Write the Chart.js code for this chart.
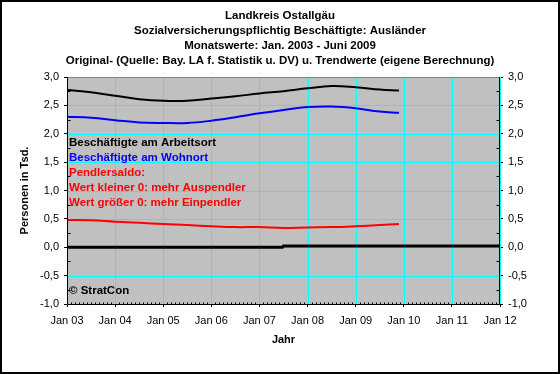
<!DOCTYPE html>
<html lang="de">
<head>
  <meta charset="UTF-8" />
  <title>Landkreis Ostallgäu - Ausländer</title>
  <script src="https://cdn.jsdelivr.net/npm/chart.js"></script>
  <style>
    body { margin: 0; background: #fff; }
    canvas { display: block; }
  </style>
</head>
<body>
  <canvas id="pendlerChart" width="560" height="374"></canvas>

  <script>
    // x values as decimal years (Jan 03 = 2003.0)
    const trendYears = [2003.0, 2003.5, 2004.0, 2004.5, 2005.0, 2005.5, 2006.0, 2006.5,
                        2007.0, 2007.5, 2008.0, 2008.5, 2009.0, 2009.5, 2009.9];
    const arbeitsort = [2.77, 2.73, 2.67, 2.61, 2.58, 2.58, 2.62, 2.66,
                        2.71, 2.75, 2.80, 2.84, 2.82, 2.78, 2.76];
    const wohnort    = [2.30, 2.28, 2.24, 2.20, 2.19, 2.19, 2.23, 2.29,
                        2.36, 2.42, 2.47, 2.48, 2.45, 2.39, 2.37];
    const saldo      = [0.48, 0.475, 0.45, 0.43, 0.41, 0.39, 0.37, 0.355,
                        0.355, 0.34, 0.35, 0.355, 0.37, 0.39, 0.41];
    const nullYears  = [2003.0, 2007.48, 2007.5, 2012.0];
    const nullLine   = [0.0, 0.0, 0.02, 0.02];

    const yearTicks = [2003, 2004, 2005, 2006, 2007, 2008, 2009, 2010, 2011, 2012];
    const titleLines = [
      'Landkreis Ostallgäu',
      'Sozialversicherungspflichtig Beschäftigte: Ausländer',
      'Monatswerte: Jan. 2003 - Juni 2009',
      'Original- (Quelle: Bay. LA f. Statistik u. DV) u. Trendwerte (eigene Berechnung)'
    ];
    const notes = [
      { text: 'Beschäftigte am Arbeitsort', color: '#000000' },
      { text: 'Beschäftigte am Wohnort', color: '#0000FF' },
      { text: 'Pendlersaldo:', color: '#FF0000' },
      { text: 'Wert kleiner 0: mehr Auspendler', color: '#FF0000' },
      { text: 'Wert größer 0: mehr Einpendler', color: '#FF0000' }
    ];

    const FONT = '"Liberation Sans", Arial, sans-serif';
    Chart.defaults.font.family = FONT;
    Chart.defaults.color = '#000';

    const toPts = (xs, ys) => xs.map((x, i) => ({ x: x, y: ys[i] }));

    // gray plot area, cyan grid, minor ticks, notes and outer frame
    const decoPlugin = {
      id: 'deco',
      beforeDatasetsDraw(chart) {
        const { ctx, chartArea: a, scales } = chart;
        ctx.save();
        ctx.fillStyle = '#C0C0C0';
        ctx.fillRect(a.left, a.top, a.right - a.left, a.bottom - a.top);
        ctx.strokeStyle = '#00FFFF';
        ctx.lineWidth = 1;
        ctx.beginPath();
        scales.x.ticks.forEach(t => {
          const px = Math.round(scales.x.getPixelForValue(t.value)) + 0.5;
          ctx.moveTo(px, a.top); ctx.lineTo(px, a.bottom);
        });
        scales.y.ticks.forEach(t => {
          const py = Math.round(scales.y.getPixelForValue(t.value)) + 0.5;
          ctx.moveTo(a.left, py); ctx.lineTo(a.right, py);
        });
        ctx.stroke();
        // top edge of plot area (gray, no axis)
        ctx.strokeStyle = '#808080';
        ctx.beginPath();
        ctx.moveTo(a.left, Math.round(a.top) + 0.5);
        ctx.lineTo(a.right, Math.round(a.top) + 0.5);
        ctx.stroke();
        ctx.restore();
      },
      afterDraw(chart) {
        const { ctx, chartArea: a, scales } = chart;
        ctx.save();
        // axis lines
        ctx.strokeStyle = '#000';
        ctx.lineWidth = 1;
        ctx.beginPath();
        const l = Math.round(a.left) + 0.5, r = Math.round(a.right) - 0.5, b = Math.round(a.bottom) + 0.5;
        ctx.moveTo(l, a.top); ctx.lineTo(l, b);
        ctx.lineTo(r, b); ctx.lineTo(r, a.top);
        // minor ticks
        for (let v = -0.75; v < 3; v += 0.5) {
          const py = Math.round(scales.y.getPixelForValue(v)) + 0.5;
          ctx.moveTo(l, py); ctx.lineTo(l + 3, py);
          ctx.moveTo(r - 3, py); ctx.lineTo(r, py);
        }
        for (let m = 1; m < 108; m++) {
          if (m % 12 === 0) continue;
          const px = Math.round(scales.x.getPixelForValue(2003 + m / 12)) + 0.5;
          ctx.moveTo(px, b); ctx.lineTo(px, b - 2);
        }
        ctx.stroke();

        ctx.font = 'bold 11.5px ' + FONT;
        ctx.textBaseline = 'middle';
        ctx.textAlign = 'left';
        notes.forEach((n, i) => {
          ctx.fillStyle = n.color;
          ctx.fillText(n.text, a.left + 2, a.top + 66 + i * 15);
        });
        ctx.fillStyle = '#000';
        ctx.fillText('© StratCon', a.left + 2, a.bottom - 13);

        ctx.lineWidth = 2;
        ctx.strokeRect(1, 1, chart.width - 2, chart.height - 2);
        ctx.restore();
      }
    };

    const fmt = (v) => v.toFixed(1).replace('.', ',');

    new Chart(document.getElementById('pendlerChart').getContext('2d'), {
      type: 'line',
      data: {
        datasets: [
          { label: 'Null', data: toPts(nullYears, nullLine), borderColor: '#000', borderWidth: 3 },
          { label: 'Beschäftigte am Arbeitsort', data: toPts(trendYears, arbeitsort), borderColor: '#000', borderWidth: 2, tension: 0.4 },
          { label: 'Beschäftigte am Wohnort', data: toPts(trendYears, wohnort), borderColor: '#0000FF', borderWidth: 2, tension: 0.4 },
          { label: 'Pendlersaldo', data: toPts(trendYears, saldo), borderColor: '#FF0000', borderWidth: 2, tension: 0.4 }
        ]
      },
      options: {
        responsive: false,
        animation: false,
        elements: { point: { radius: 0 } },
        layout: { padding: 0 },
        plugins: {
          legend: { display: false },
          tooltip: { enabled: false },
          title: {
            display: true,
            text: titleLines,
            color: '#000',
            font: { size: 11.5, weight: 'bold', lineHeight: '15px' },
            padding: { top: 8, bottom: 9 }
          }
        },
        scales: {
          x: {
            type: 'linear',
            min: 2003, max: 2012,
            afterBuildTicks: (s) => { s.ticks = yearTicks.map(v => ({ value: v })); },
            afterFit: (s) => { s.height = 70; },
            ticks: { callback: (v) => 'Jan ' + String(v).slice(2), font: { size: 11 }, padding: 7, maxRotation: 0, autoSkip: false },
            grid: { drawOnChartArea: false, tickColor: '#000', tickLength: 3 },
            border: { display: false },
            title: { display: true, text: 'Jahr', font: { size: 11, weight: 'bold' }, padding: { bottom: 27 } }
          },
          y: {
            position: 'left',
            min: -1, max: 3,
            ticks: { stepSize: 0.5, callback: fmt, font: { size: 11 }, padding: 5 },
            afterFit: (s) => { s.width = 67; },
            grid: { drawOnChartArea: false, tickColor: '#000', tickLength: 3 },
            border: { display: false },
            title: { display: true, text: 'Personen in Tsd.', font: { size: 11, weight: 'bold' }, padding: { top: 18 } }
          },
          y2: {
            position: 'right',
            min: -1, max: 3,
            ticks: { stepSize: 0.5, callback: fmt, font: { size: 11 }, padding: 5 },
            afterFit: (s) => { s.width = 60; },
            grid: { drawOnChartArea: false, tickColor: '#000', tickLength: 3 },
            border: { display: false }
          }
        }
      },
      plugins: [decoPlugin]
    });
  </script>
</body>
</html>
